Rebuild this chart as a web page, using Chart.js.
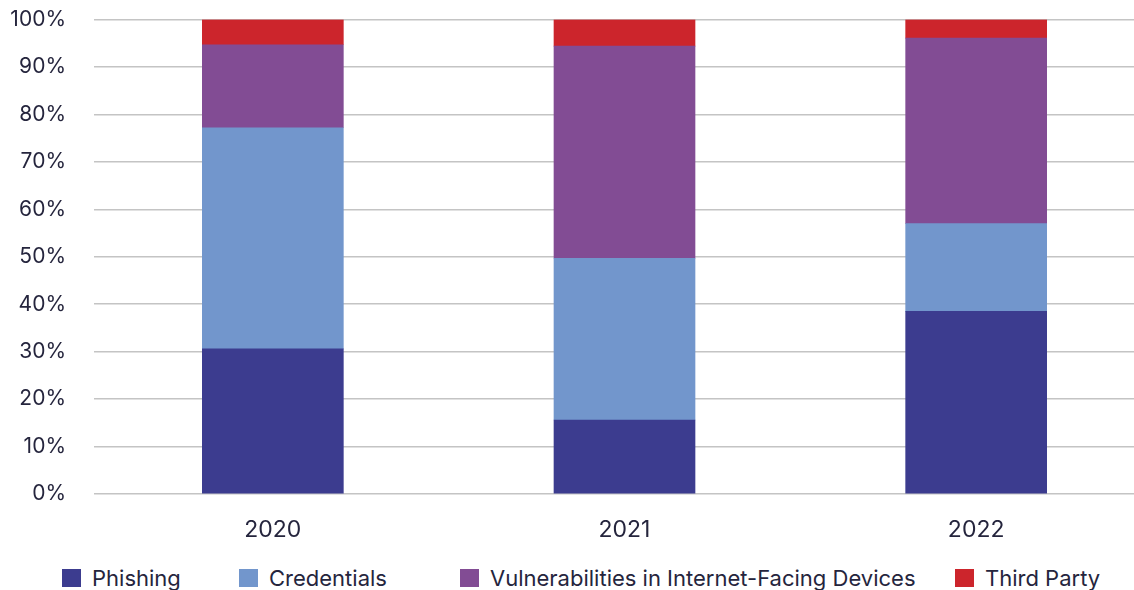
<!DOCTYPE html>
<html>
<head>
<meta charset="utf-8">
<title>Initial access vectors</title>
<script src="https://cdn.jsdelivr.net/npm/chart.js@4/dist/chart.umd.min.js"></script>
<style>
  html, body { margin: 0; padding: 0; background: #fff; overflow: hidden; }
  #wrap { position: relative; width: 1152px; height: 590px; }
  #chartBox { position: absolute; left: 0; top: -21px; width: 1152px; height: 571px; }
  .legend-item {
    position: absolute; top: 565px; display: flex; align-items: center;
    font-family: Inter, "Noto Sans", sans-serif; font-size: 22px; color: #25253d;
    white-space: nowrap;
  }
  .legend-item i { display: inline-block; width: 19px; height: 18px; margin-right: 11px; }
</style>
</head>
<body>
<div id="wrap">
  <div id="chartBox"><canvas id="vectors"></canvas></div>
  <div id="legend"></div>
</div>
<script>
// share of incidents per initial access vector, by year (%)
const years = ["2020", "2021", "2022"];
const phishing = [30.6, 15.6, 38.5];
const credentials = [46.6, 34.1, 18.5];
const vulnerabilities = [17.5, 44.7, 39.1];
const thirdParty = [5.3, 5.6, 3.9];

const seriesNames = ["Phishing", "Credentials", "Vulnerabilities in Internet-Facing Devices", "Third Party"];
const seriesColors = ["#3c3c8f", "#7296cc", "#824c94", "#cc252c"];
const legendLeft = [62, 239, 460, 955];

const textColor = "#25253d";
const gridColor = "#c4c4c4";

const seriesValues = [phishing, credentials, vulnerabilities, thirdParty];

const chart = new Chart(document.getElementById("vectors"), {
  type: "bar",
  data: {
    labels: years,
    datasets: seriesNames.map((name, i) => ({
      label: name,
      data: seriesValues[i],
      backgroundColor: seriesColors[i],
      borderWidth: 0,
      barThickness: 141,
    })),
  },
  options: {
    responsive: true,
    maintainAspectRatio: false,
    animation: false,
    layout: { padding: { top: -3, left: 0, right: 0, bottom: 0 } },
    plugins: {
      legend: { display: false },
      tooltip: { enabled: false },
    },
    scales: {
      x: {
        stacked: true,
        grid: { display: false },
        border: { display: false },
        ticks: {
          color: textColor,
          padding: 14,
          font: { family: "Inter", size: 23 },
        },
        afterFit: (s) => { s.height = 56; },
      },
      y: {
        stacked: true,
        min: 0,
        max: 100,
        grid: { color: gridColor, lineWidth: 1.5, tickLength: 3, tickColor: gridColor },
        border: { display: false },
        ticks: {
          stepSize: 10,
          color: textColor,
          padding: 28,
          font: { family: "Inter", size: 21 },
          callback: (v) => v + "%",
        },
        afterFit: (s) => { s.width = 97; },
      },
    },
  },
});

// legend laid out below the plot
const legend = document.getElementById("legend");
seriesNames.forEach((name, i) => {
  const item = document.createElement("div");
  item.className = "legend-item";
  item.style.left = legendLeft[i] + "px";
  item.innerHTML = '<i style="background:' + seriesColors[i] + '"></i>' + name;
  legend.appendChild(item);
});
</script>
</body>
</html>
